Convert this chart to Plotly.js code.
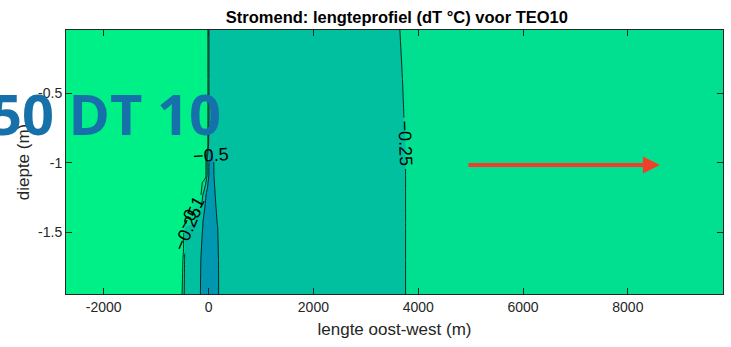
<!DOCTYPE html>
<html>
<head>
<meta charset="utf-8">
<script src="https://cdn.plot.ly/plotly-3.0.1.min.js"></script>
<style>
html,body{margin:0;padding:0;background:#fff;}
#chart{width:731px;height:347px;}
</style>
</head>
<body>
<div id="chart"></div>
<script>
// Horizontal distance (m), east-west
const xDist = [-2720, -600, -520, -480, -440, -300, -200, -160, -120, -60, -20, 20, 60, 120, 170, 220, 300, 1000, 2000, 3000, 3550, 3850, 5000, 7000, 9815];
// Depth (m)
const yDepth = [-1.944, -1.7, -1.47, -1.43, -1.23, -1.09, -0.98, -0.87, -0.7, -0.4, -0.045];
// dT (°C), one row per depth (bottom to top)
const dT = [
  [-0.04,-0.04,-0.04,-0.195,-0.35,-0.35,-0.35,-0.485,-0.62,-0.62,-0.62,-0.62,-0.62,-0.62,-0.62,-0.35,-0.35,-0.35,-0.35,-0.35,-0.387,-0.19,-0.19,-0.19,-0.19],
  [-0.04,-0.04,-0.04,-0.12,-0.35,-0.35,-0.35,-0.45,-0.62,-0.62,-0.62,-0.62,-0.62,-0.62,-0.6,-0.35,-0.35,-0.35,-0.35,-0.35,-0.387,-0.19,-0.19,-0.19,-0.19],
  [-0.04,-0.04,-0.04,-0.04,-0.35,-0.35,-0.35,-0.35,-0.48,-0.62,-0.62,-0.62,-0.62,-0.62,-0.52,-0.35,-0.35,-0.35,-0.35,-0.35,-0.387,-0.19,-0.19,-0.19,-0.19],
  [-0.04,-0.04,-0.04,-0.04,-0.04,-0.2,-0.35,-0.35,-0.47,-0.62,-0.62,-0.62,-0.62,-0.62,-0.48,-0.35,-0.35,-0.35,-0.35,-0.35,-0.387,-0.19,-0.19,-0.19,-0.19],
  [-0.04,-0.04,-0.04,-0.04,-0.04,-0.04,-0.04,-0.04,-0.2,-0.45,-0.62,-0.62,-0.62,-0.52,-0.35,-0.35,-0.35,-0.35,-0.35,-0.35,-0.387,-0.19,-0.19,-0.19,-0.19],
  [-0.04,-0.04,-0.04,-0.04,-0.04,-0.04,-0.04,-0.04,-0.04,-0.04,-0.3,-0.62,-0.62,-0.45,-0.35,-0.35,-0.35,-0.35,-0.35,-0.35,-0.387,-0.19,-0.19,-0.19,-0.19],
  [-0.04,-0.04,-0.04,-0.04,-0.04,-0.04,-0.04,-0.04,-0.04,-0.04,-0.3,-0.6,-0.6,-0.45,-0.35,-0.35,-0.35,-0.35,-0.35,-0.35,-0.387,-0.19,-0.19,-0.19,-0.19],
  [-0.04,-0.04,-0.04,-0.04,-0.04,-0.04,-0.04,-0.04,-0.04,-0.04,-0.04,-0.45,-0.45,-0.35,-0.35,-0.35,-0.35,-0.35,-0.35,-0.35,-0.387,-0.19,-0.19,-0.19,-0.19],
  [-0.04,-0.04,-0.04,-0.04,-0.04,-0.04,-0.04,-0.04,-0.04,-0.04,-0.04,-0.35,-0.35,-0.35,-0.35,-0.35,-0.35,-0.35,-0.35,-0.35,-0.34,-0.19,-0.19,-0.19,-0.19],
  [-0.04,-0.04,-0.04,-0.04,-0.04,-0.04,-0.04,-0.04,-0.04,-0.04,-0.04,-0.35,-0.35,-0.35,-0.35,-0.35,-0.35,-0.35,-0.35,-0.35,-0.31,-0.19,-0.19,-0.19,-0.19],
  [-0.04,-0.04,-0.04,-0.04,-0.04,-0.04,-0.04,-0.04,-0.04,-0.04,-0.04,-0.35,-0.35,-0.35,-0.35,-0.35,-0.35,-0.35,-0.35,-0.35,-0.28,-0.19,-0.19,-0.19,-0.19]
];
// Contour levels drawn as lines with labels
const lineLevels = [-0.5, -0.25, -0.1];
// Axis ticks
const xTickVals = [-2000, 0, 2000, 4000, 6000, 8000];
const xTickText = ['-2000', '0', '2000', '4000', '6000', '8000'];
const yTickVals = [-1.5, -1, -0.5];
const yTickText = ['-1.5', '-1', '-0.5'];
// Band colours: < -0.5, -0.5..-0.25, -0.25..-0.1, > -0.1
const bandColors = ['#0098B0', '#00C0A0', '#00E090', '#00F088'];

const FONT = 'Liberation Sans, Arial, sans-serif';
const AX = '#262626';

const traces = [];
traces.push({
  type: 'contour', x: xDist, y: yDepth, z: dT,
  autocontour: false,
  contours: {start: -0.5, end: -0.1, size: 0.05, coloring: 'fill', showlines: false},
  colorscale: [
    [0, bandColors[0]], [0.055, bandColors[0]],
    [0.055, bandColors[1]], [0.61, bandColors[1]],
    [0.61, bandColors[2]], [0.944, bandColors[2]],
    [0.944, bandColors[3]], [1, bandColors[3]]
  ],
  showscale: false,
  line: {width: 0, smoothing: 0},
  hoverinfo: 'skip'
});
lineLevels.forEach(function (lv) {
  traces.push({
    type: 'contour', x: xDist, y: yDepth, z: dT,
    autocontour: false,
    contours: {start: lv, end: lv, size: 0.05, coloring: 'none', showlabels: true,
      labelfont: {family: FONT, size: 18, color: '#000'}},
    line: {color: '#000', width: 0.8, smoothing: 0},
    showscale: false,
    hoverinfo: 'skip'
  });
});

const layout = {
  width: 731, height: 347,
  margin: {l: 66, r: 8, t: 30, b: 53},
  paper_bgcolor: '#fff', plot_bgcolor: '#fff',
  showlegend: false,
  title: {
    text: '<b>Stromend: lengteprofiel (dT °C) voor TEO10</b>',
    font: {family: FONT, size: 16.5, color: '#000'},
    x: 0.543, xanchor: 'center', y: 0.95, yanchor: 'middle'
  },
  xaxis: {
    range: [-2720, 9815], tickvals: xTickVals, ticktext: xTickText,
    ticks: 'inside', ticklen: 6, tickcolor: AX, tickwidth: 1,
    showline: true, linecolor: AX, linewidth: 1, mirror: 'ticks',
    showgrid: false, zeroline: false,
    tickfont: {family: FONT, size: 14, color: AX},
    title: {text: 'lengte oost-west (m)', font: {family: FONT, size: 17, color: AX}, standoff: 9}
  },
  yaxis: {
    range: [-1.944, -0.045], tickvals: yTickVals, ticktext: yTickText,
    ticks: 'inside', ticklen: 6, tickcolor: AX, tickwidth: 1,
    showline: true, linecolor: AX, linewidth: 1, mirror: 'ticks',
    showgrid: false, zeroline: false,
    tickfont: {family: FONT, size: 14, color: AX},
    title: {text: 'diepte (m)', font: {family: FONT, size: 17, color: AX}, standoff: 4}
  },
  annotations: [
    {
      xref: 'paper', yref: 'paper', x: 0.239, y: 0.686, xanchor: 'right', yanchor: 'middle',
      text: '<b>50 DT 10</b>', showarrow: false,
      font: {family: 'Open Sans, sans-serif', size: 56, color: '#1670aa'}
    },
    {
      xref: 'paper', yref: 'paper', x: 0.904, y: 0.4886, ax: -193, ay: 0,
      text: '', showarrow: true, arrowhead: 2, arrowsize: 0.85, arrowwidth: 4,
      arrowcolor: '#F0402A', standoff: 0, startstandoff: 0
    }
  ]
};

Plotly.newPlot('chart', traces, layout, {displayModeBar: false, staticPlot: true});
</script>
</body>
</html>
